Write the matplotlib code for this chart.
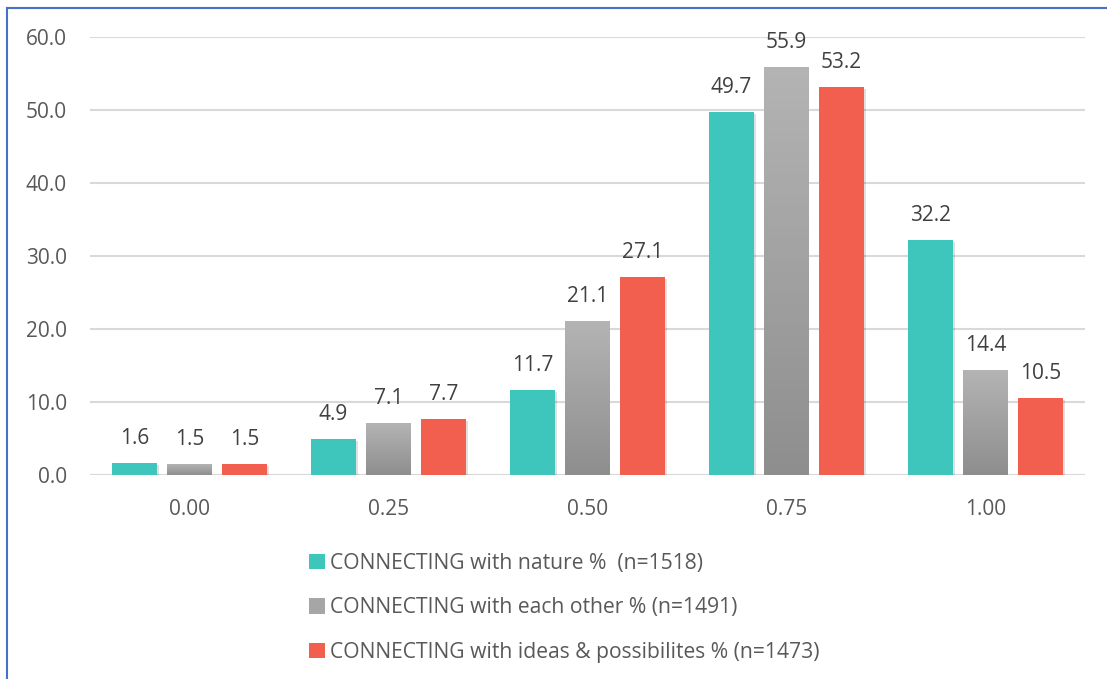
import numpy as np
import matplotlib
matplotlib.use("Agg")
import matplotlib.pyplot as plt
from matplotlib.colors import LinearSegmentedColormap
from matplotlib.patches import Patch
from matplotlib.lines import Line2D
import matplotlib.patheffects as pe

categories = ["0.00", "0.25", "0.50", "0.75", "1.00"]
nature = [1.6, 4.9, 11.7, 49.7, 32.2]
each_other = [1.5, 7.1, 21.1, 55.9, 14.4]
ideas = [1.5, 7.7, 27.1, 53.2, 10.5]
series_labels = [
    "CONNECTING with nature %  (n=1518)",
    "CONNECTING with each other % (n=1491)",
    "CONNECTING with ideas & possibilites % (n=1473)",
]
y_ticks = [0, 10, 20, 30, 40, 50, 60]

teal = "#3EC6BC"
grey = "#A6A6A6"
red = "#F25F4F"
text_color = "#595959"

plt.rcParams["font.family"] = ["Open Sans", "DejaVu Sans"]

fig = plt.figure(figsize=(11.07, 6.79), dpi=100)
ax = fig.add_axes([0.0813, 0.3004, 0.8987, 0.6451])

x = np.arange(len(categories))
width = 0.226
step = 0.276
shadow = [pe.SimplePatchShadow(offset=(1.5, -1.5), shadow_rgbFace="#000000", alpha=0.12), pe.Normal()]

b1 = ax.bar(x - step, nature, width, color=teal, zorder=3)
b2 = ax.bar(x, each_other, width, color="none", zorder=3)
b3 = ax.bar(x + step, ideas, width, color=red, zorder=3)
for bars in (b1, b3):
    for b in bars:
        b.set_path_effects(shadow)

# vertical gradient fill for the grey series
grad_cmap = LinearSegmentedColormap.from_list("g", ["#8E8E8E", "#B4B4B4"])
grad = np.linspace(0, 1, 256).reshape(-1, 1)
for b in b2:
    x0 = b.get_x()
    h = b.get_height()
    im = ax.imshow(grad, extent=[x0, x0 + b.get_width(), 0, h], origin="lower",
                   aspect="auto", cmap=grad_cmap, zorder=3)
    im.set_clip_path(b)

for bars, vals in ((b1, nature), (b2, each_other), (b3, ideas)):
    for b, v in zip(bars, vals):
        ax.annotate(f"{v:.1f}", (b.get_x() + b.get_width() / 2, v),
                    xytext=(0, 10), textcoords="offset points",
                    ha="center", va="bottom", fontsize=15, color="#404040", zorder=4)

ax.set_xlim(-0.5, len(categories) - 0.5)
ax.set_ylim(0, 60)
ax.set_yticks(y_ticks)
ax.set_yticklabels([f"{t:.1f}" for t in y_ticks])
ax.set_xticks(x)
ax.set_xticklabels(categories)
ax.tick_params(axis="both", length=0, labelsize=15, colors=text_color)
ax.tick_params(axis="x", pad=17)
ax.tick_params(axis="y", pad=16.5)
ax.yaxis.grid(True, color="#D9D9D9", linewidth=1.5, zorder=0)
ax.set_axisbelow(True)
for s in ax.spines.values():
    s.set_visible(False)
ax.axhline(0, color="#D9D9D9", linewidth=1.5, zorder=2)

handles = [Patch(facecolor=teal), Patch(facecolor=grey), Patch(facecolor=red)]
fig.legend(handles, series_labels, loc="upper left", bbox_to_anchor=(0.279, 0.186),
           frameon=False, fontsize=15.2, labelcolor=text_color,
           handlelength=0.75, handleheight=0.75, handletextpad=0.25,
           labelspacing=1.12, borderaxespad=0, borderpad=0)

# chart frame
fig.add_artist(Line2D([7 / 1107, 7 / 1107], [0, 1 - 8 / 679], color="#4472C4", linewidth=1.5))
fig.add_artist(Line2D([7 / 1107, 1], [1 - 8 / 679, 1 - 8 / 679], color="#4472C4", linewidth=1.5))

fig.savefig("out.png", dpi=100)
